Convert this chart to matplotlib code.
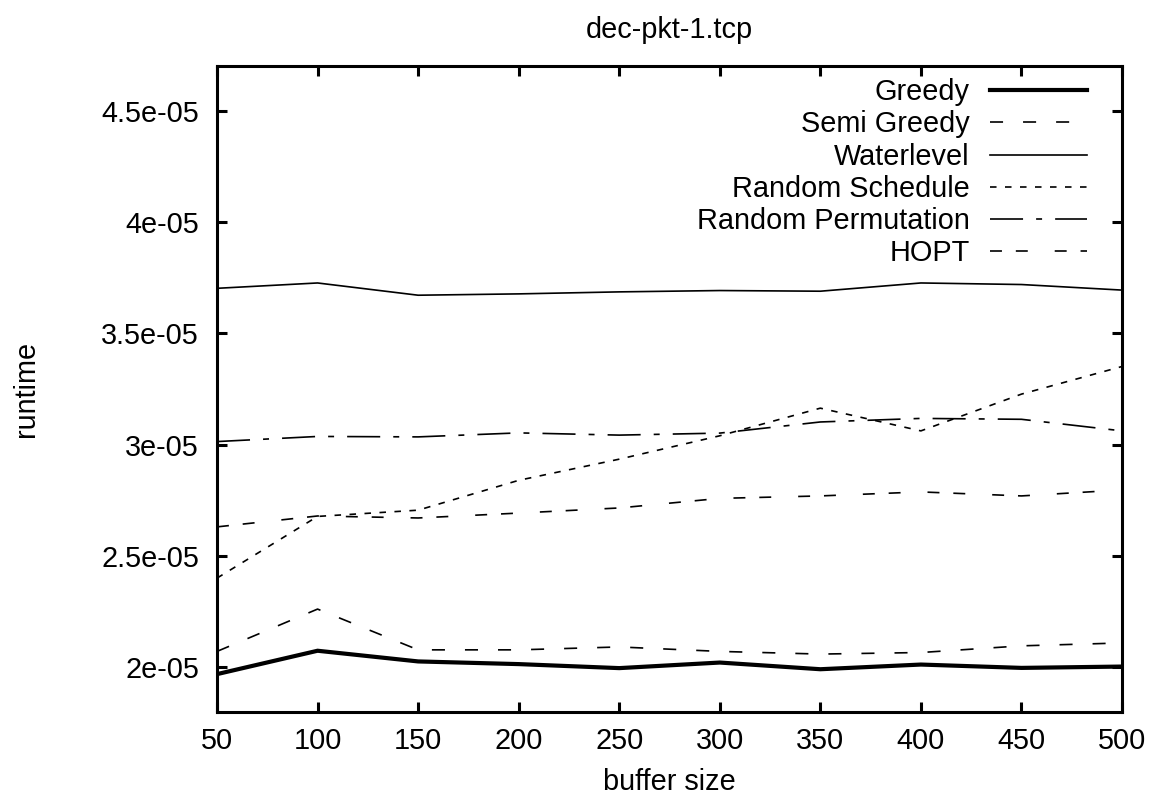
import matplotlib
matplotlib.use("Agg")
import matplotlib.pyplot as plt

plt.rcParams['font.family'] = ['Liberation Sans', 'DejaVu Sans']
plt.rcParams['lines.scale_dashes'] = False

buffer_size = [50, 100, 150, 200, 250, 300, 350, 400, 450, 500]
greedy      = [1.970, 2.075, 2.027, 2.015, 1.997, 2.022, 1.992, 2.013, 1.998, 2.004]
semi_greedy = [2.072, 2.262, 2.079, 2.079, 2.092, 2.072, 2.060, 2.067, 2.097, 2.110]
waterlevel  = [3.702, 3.726, 3.671, 3.677, 3.686, 3.692, 3.689, 3.726, 3.719, 3.694]
random_schedule    = [2.401, 2.678, 2.706, 2.840, 2.935, 3.040, 3.164, 3.062, 3.227, 3.351]
random_permutation = [3.014, 3.037, 3.035, 3.053, 3.043, 3.052, 3.102, 3.118, 3.114, 3.062]
hopt        = [2.631, 2.680, 2.671, 2.693, 2.716, 2.759, 2.770, 2.788, 2.770, 2.797]
scale = 1e-05

yticks = [2e-05, 2.5e-05, 3e-05, 3.5e-05, 4e-05, 4.5e-05]
ytick_labels = ['2e-05', '2.5e-05', '3e-05', '3.5e-05', '4e-05', '4.5e-05']
xticks = buffer_size

series = [
    ("Greedy", greedy, dict(lw=3.0, ls='-')),
    ("Semi Greedy", semi_greedy, dict(lw=1.2, ls=(0, (9.4, 14.4)))),
    ("Waterlevel", waterlevel, dict(lw=1.2, ls='-')),
    ("Random Schedule", random_schedule, dict(lw=1.2, ls=(0, (4.7, 6.1)))),
    ("Random Permutation", random_permutation, dict(lw=1.2, ls=(0, (23.8, 9.4, 4.3, 9.4)))),
    ("HOPT", hopt, dict(lw=1.2, ls=(0, (8.6, 10, 8.6, 19.4)))),
]

fig = plt.figure(figsize=(11.72, 8.01), dpi=100)
ax = fig.add_axes([217/1172, 1-712/801, (1122-217)/1172, (712-66)/801])

for name, vals, st in series:
    ax.plot(buffer_size, [v*scale for v in vals], color='black', label=name,
            solid_joinstyle='miter', **st)

fs = 20.8
ax.set_xlim(50, 500)
ax.set_ylim(1.8e-05, 4.7e-05)
ax.set_xticks(xticks)
ax.set_xticklabels([str(x) for x in xticks], fontsize=fs)
ax.set_yticks(yticks)
ax.set_yticklabels(ytick_labels, fontsize=fs)
ax.tick_params(direction='in', length=7, width=2.2, top=True, right=True)
ax.tick_params(axis='y', pad=13)
ax.tick_params(axis='x', pad=11)
for s in ax.spines.values():
    s.set_linewidth(2.2)

ax.set_title("dec-pkt-1.tcp", fontsize=fs, pad=20)
ax.set_xlabel("buffer size", fontsize=fs, labelpad=9)
ax.set_ylabel("runtime", fontsize=fs, labelpad=44)

leg = ax.legend(loc='upper right', bbox_to_anchor=(0.961, 0.981), frameon=False,
                markerfirst=False, fontsize=fs, handlelength=3.36, handletextpad=0.69,
                labelspacing=0.145, borderpad=0, borderaxespad=0)

fig.savefig("out.png", dpi=100)
